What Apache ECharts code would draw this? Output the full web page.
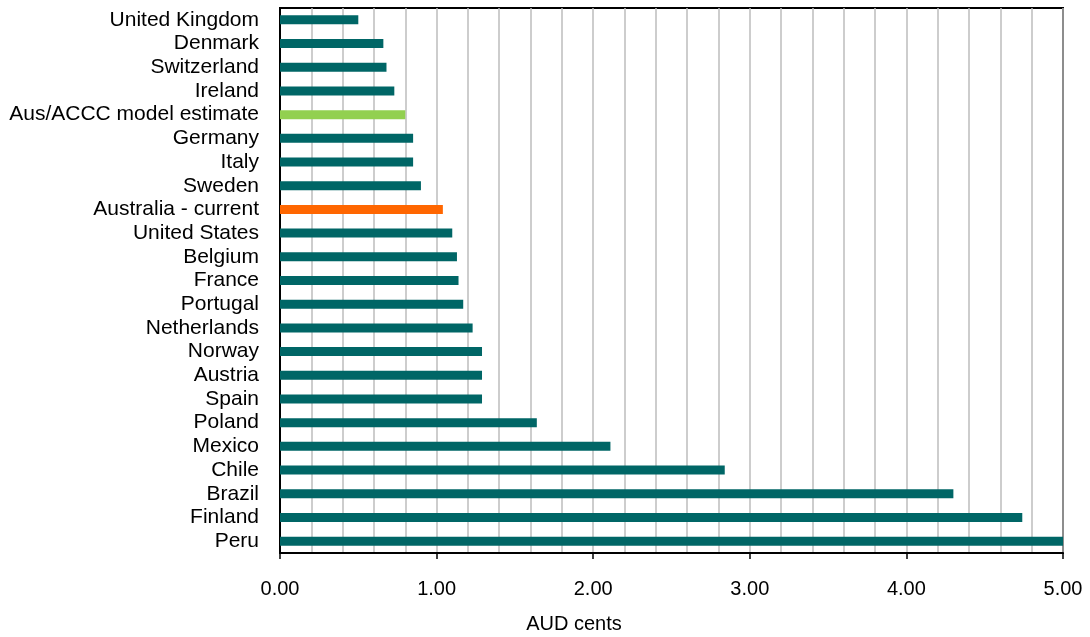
<!DOCTYPE html>
<html>
<head>
<meta charset="utf-8">
<script src="https://cdn.jsdelivr.net/npm/echarts@6/dist/echarts.min.js"></script>
<style>
  html, body { margin: 0; padding: 0; background: #fff; }
  #chart { width: 1090px; height: 637px; }
</style>
</head>
<body>
<div id="chart"></div>
<script>
// Electricity cost per unit, AUD cents, by country (top to bottom)
const categories = [
  'United Kingdom', 'Denmark', 'Switzerland', 'Ireland', 'Aus/ACCC model estimate',
  'Germany', 'Italy', 'Sweden', 'Australia - current', 'United States',
  'Belgium', 'France', 'Portugal', 'Netherlands', 'Norway', 'Austria', 'Spain',
  'Poland', 'Mexico', 'Chile', 'Brazil', 'Finland', 'Peru'
];
const values = [
  0.50, 0.66, 0.68, 0.73, 0.80,
  0.85, 0.85, 0.90, 1.04, 1.10,
  1.13, 1.14, 1.17, 1.23, 1.29, 1.29, 1.29,
  1.64, 2.11, 2.84, 4.30, 4.74, 5.00
];
const axisName = 'AUD cents';

const baseColor = '#006666';
const specialColors = {
  'Aus/ACCC model estimate': '#92d050',
  'Australia - current': '#ff6600'
};

const chart = echarts.init(document.getElementById('chart'), null, { renderer: 'canvas' });
const font = '"Liberation Sans", Arial, sans-serif';

chart.setOption({
  animation: false,
  backgroundColor: '#ffffff',
  grid: {
    left: 280, right: 27, top: 8, bottom: 84,
    show: true, borderColor: '#000', borderWidth: 2,
    containLabel: false
  },
  xAxis: {
    type: 'value',
    min: 0, max: 5, interval: 1,
    axisLine: { show: true, onZero: false, lineStyle: { color: '#000', width: 2 } },
    axisTick: { show: true, length: 6, inside: false, lineStyle: { color: '#000', width: 1.5 } },
    axisLabel: {
      formatter: v => v.toFixed(2),
      color: '#000', fontSize: 20, fontFamily: font, margin: 26
    },
    splitLine: { show: true, lineStyle: { color: '#bdbdbd', width: 1.5 } },
    minorTick: { show: false, splitNumber: 5 },
    minorSplitLine: { show: true, lineStyle: { color: '#bdbdbd', width: 1.5 } }
  },
  yAxis: {
    type: 'category',
    data: categories,
    inverse: true,
    axisLine: { show: true, lineStyle: { color: '#000', width: 2 } },
    axisTick: { show: false },
    axisLabel: {
      interval: 0, hideOverlap: false,
      color: '#000', fontSize: 21, lineHeight: 22, fontFamily: font, margin: 21
    },
    splitLine: { show: false }
  },
  graphic: [{
    type: 'text',
    x: 574, y: 624,
    style: {
      text: axisName, fill: '#000', font: '20px ' + font,
      align: 'center', verticalAlign: 'middle'
    }
  }],
  series: [{
    type: 'bar',
    data: values,
    barWidth: 9,
    clip: true,
    itemStyle: {
      color: p => specialColors[categories[p.dataIndex]] || baseColor
    }
  }]
});
</script>
</body>
</html>
